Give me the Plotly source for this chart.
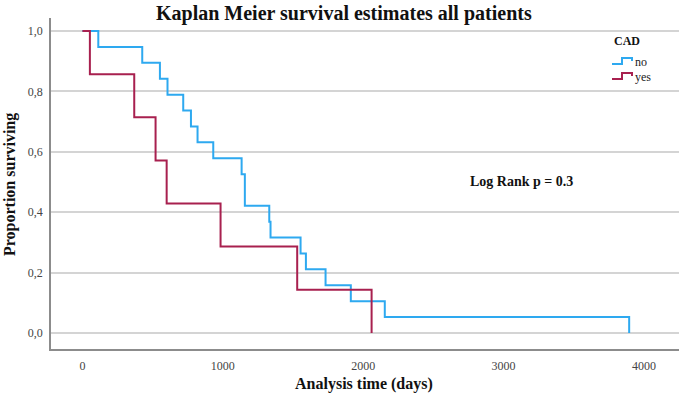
import plotly.graph_objects as go

# Kaplan-Meier step data
no_times = [0, 113, 426, 552, 606, 718, 773, 820, 932, 1134, 1157, 1331, 1340, 1554, 1592, 1732, 1912, 2154, 3895]
no_surv = [1.0, 0.947, 0.895, 0.842, 0.789, 0.737, 0.684, 0.632, 0.579, 0.526, 0.421, 0.368, 0.316, 0.263, 0.211, 0.158, 0.105, 0.053, 0.0]

yes_times = [0, 53, 369, 521, 600, 984, 1530, 2060]
yes_surv = [1.0, 0.857, 0.714, 0.571, 0.429, 0.286, 0.143, 0.0]

x_ticks = [0, 1000, 2000, 3000, 4000]
y_ticks = [0.0, 0.2, 0.4, 0.6, 0.8, 1.0]
y_tick_labels = ["0,0", "0,2", "0,4", "0,6", "0,8", "1,0"]

BLUE = "#2ea9f0"
RED = "#a8204f"
SERIF = "Liberation Serif, Times New Roman, serif"

fig = go.Figure()
fig.add_trace(go.Scatter(x=no_times, y=no_surv, mode="lines", line=dict(shape="hv", color=BLUE, width=2), name="no", showlegend=False))
fig.add_trace(go.Scatter(x=yes_times, y=yes_surv, mode="lines", line=dict(shape="hv", color=RED, width=2), name="yes", showlegend=False))

L, R, T, B = 51, 0, 18, 51
W, H = 679, 400
pw, ph = W - L - R, H - T - B

def px(xp):
    return (xp - L) / pw

def py(yp):
    return (H - B - yp) / ph

fig.update_layout(
    width=W, height=H,
    margin=dict(l=L, r=R, t=T, b=B, pad=0),
    paper_bgcolor="white", plot_bgcolor="white",
    font=dict(family=SERIF, color="#333333"),
    xaxis=dict(range=[-224, 4250], tickvals=x_ticks, showgrid=False, zeroline=False,
               showline=True, linecolor="#8c8c8c", linewidth=1.5,
               ticks="", tickfont=dict(size=12, color="#444444"), ticklabelstandoff=5),
    yaxis=dict(range=[-0.053, 1.043], tickvals=y_ticks, ticktext=y_tick_labels,
               showgrid=True, gridcolor="#d4d4d4", gridwidth=1.5, zeroline=False,
               showline=True, linecolor="#8c8c8c", linewidth=1.5,
               ticks="", tickfont=dict(size=12, color="#444444"), ticklabelstandoff=4),
)

ann = []
ann.append(dict(text="<b>Kaplan Meier survival estimates all patients</b>", xref="paper", yref="paper",
                x=px(344), y=py(13), showarrow=False, font=dict(size=20, color="#111111", family=SERIF),
                xanchor="center", yanchor="middle"))
ann.append(dict(text="<b>Analysis time (days)</b>", xref="paper", yref="paper",
                x=px(364), y=py(384), showarrow=False, font=dict(size=16, color="#111111", family=SERIF),
                xanchor="center", yanchor="middle"))
ann.append(dict(text="<b>Proportion surviving</b>", xref="paper", yref="paper", textangle=-90,
                x=px(10), y=py(185), showarrow=False, font=dict(size=16, color="#111111", family=SERIF),
                xanchor="center", yanchor="middle"))
ann.append(dict(text="<b>Log Rank p = 0.3</b>", xref="paper", yref="paper",
                x=px(521), y=py(181), showarrow=False, font=dict(size=14, color="#111111", family=SERIF),
                xanchor="center", yanchor="middle"))
ann.append(dict(text="<b>CAD</b>", xref="paper", yref="paper",
                x=px(627), y=py(41), showarrow=False, font=dict(size=12, color="#111111", family=SERIF),
                xanchor="center", yanchor="middle"))
ann.append(dict(text="no", xref="paper", yref="paper",
                x=px(633), y=py(62), showarrow=False, font=dict(size=12, color="#222222", family=SERIF),
                xanchor="left", yanchor="middle"))
ann.append(dict(text="yes", xref="paper", yref="paper",
                x=px(633), y=py(77), showarrow=False, font=dict(size=12, color="#222222", family=SERIF),
                xanchor="left", yanchor="middle"))
fig.update_layout(annotations=ann)

# legend step icons
shapes = []
for color, yc in [(BLUE, 61), (RED, 76)]:
    path = "M {} {} L {} {} L {} {} L {} {} L {} {}".format(
        px(612), py(yc + 3), px(622), py(yc + 3), px(622), py(yc - 3), px(632), py(yc - 3), px(632), py(yc))
    shapes.append(dict(type="path", path=path, xref="paper", yref="paper",
                       line=dict(color=color, width=2)))
fig.update_layout(shapes=shapes)

fig.write_html("out.html")
